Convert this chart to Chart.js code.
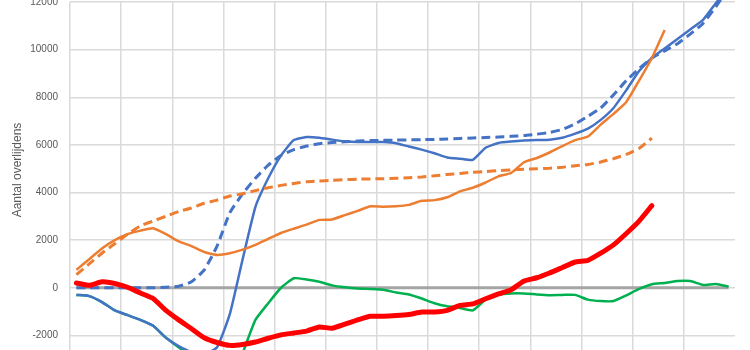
<!DOCTYPE html>
<html>
<head>
<meta charset="utf-8">
<script src="https://cdn.jsdelivr.net/npm/chart.js@4"></script>
<style>
  html, body { margin: 0; padding: 0; background: #fff; overflow: hidden; }
  #wrap { position: absolute; left: 0; top: -20px; width: 750px; height: 421px; }
</style>
</head>
<body>
<div id="wrap"><canvas id="chart"></canvas></div>
<script>
// weken (x-as labels zitten onder de uitsnede)
const weeks = ['1','2','3','4','5','6','7','8','9','10','11','12','13','14','15','16','17','18','19','20',
  '21','22','23','24','25','26','27','28','29','30','31','32','33','34','35','36','37','38','39','40',
  '41','42','43','44','45','46','47','48','49','50','51','52'];

// blauw doorgetrokken
const blueSolid = [-300, -350, -600, -950, -1150, -1350, -1600, -2100, -2450, -2700,
  -2800, -2500, -1100, 1200, 3400, 4600, 5550, 6200, 6330, 6300,
  6220, 6150, 6120, 6120, 6120, 6070, 5930, 5800, 5650, 5470,
  5420, 5370, 5880, 6080, 6140, 6180, 6200, 6220, 6300, 6470,
  6680, 7050, 7550, 8300, 9100, 9650, 10050, 10450, 10850, 11250,
  11950, 12600];
// blauw gestippeld
const blueDashed = [0, 0, 0, 0, 0, 0, 0, 20, 60, 250,
  750, 1750, 3150, 3950, 4600, 5150, 5550, 5800, 5950, 6050,
  6100, 6130, 6160, 6180, 6190, 6200, 6210, 6220, 6230, 6250,
  6270, 6290, 6310, 6330, 6360, 6390, 6450, 6520, 6650, 6880,
  7200, 7550, 8100, 8700, 9200, 9650, 9950, 10250, 10650, 11100,
  11800, 12600];
// oranje doorgetrokken
const orangeSolid = [750, 1200, 1650, 2000, 2250, 2400, 2500, 2250, 1950, 1750,
  1500, 1380, 1450, 1600, 1800, 2050, 2300, 2480, 2650, 2850,
  2870, 3050, 3230, 3420, 3400, 3420, 3480, 3650, 3680, 3800,
  4050, 4200, 4420, 4680, 4820, 5270, 5450, 5680, 5950, 6200,
  6350, 6850, 7300, 7800, 8700, 9650, 10820];
// oranje gestippeld
const orangeDashed = [550, 1000, 1450, 1850, 2250, 2600, 2800, 3000, 3200, 3350,
  3550, 3680, 3850, 3950, 4080, 4200, 4300, 4380, 4450, 4480,
  4510, 4540, 4560, 4570, 4580, 4600, 4620, 4650, 4700, 4760,
  4800, 4850, 4880, 4920, 4950, 4980, 5000, 5020, 5060, 5120,
  5180, 5280, 5420, 5600, 5850, 6280];
// rood (dik)
const redLine = [200, 100, 250, 180, 20, -220, -450, -950, -1350, -1720,
  -2100, -2300, -2420, -2380, -2280, -2120, -1980, -1900, -1820, -1650,
  -1700, -1530, -1350, -1200, -1200, -1170, -1120, -1020, -1020, -950,
  -740, -680, -460, -260, -80, 280, 420, 620, 850, 1080,
  1150, 1450, 1800, 2280, 2800, 3450];
// groen
const greenLine = [-300, -350, -600, -950, -1150, -1350, -1600, -2100, -2500, -2950,
  -3550, -4250, -4250, -2750, -1350, -650, 0, 400, 350, 250,
  100, 20, -30, -50, -80, -200, -280, -450, -650, -780,
  -850, -950, -500, -300, -240, -240, -280, -310, -300, -300,
  -500, -560, -560, -320, -50, 150, 200, 280, 280, 120,
  160, 50];
// nullijn (grijs)
const zeroLine = [0, 0, 0, 0, 0, 0, 0, 0, 0, 0, 0, 0, 0, 0, 0, 0, 0, 0, 0, 0,
  0, 0, 0, 0, 0, 0, 0, 0, 0, 0, 0, 0, 0, 0, 0, 0, 0, 0, 0, 0,
  0, 0, 0, 0, 0, 0, 0, 0, 0, 0, 0, 0];

const yTicks = { min: -4000, max: 12000, step: 2000 };
const yTitle = 'Aantal overlijdens';

function line(data, color, width, dash, extra) {
  return Object.assign({
    data: data,
    borderColor: color,
    backgroundColor: color,
    borderWidth: width,
    borderDash: dash || [],
    pointRadius: 0,
    pointHoverRadius: 0,
    tension: 0.15,
    fill: false
  }, extra || {});
}

// as-titel: gecentreerd op de volledige (niet uitgesneden) grafiek, dus iets hoger
const axisTitle = {
  id: 'axisTitle',
  afterDraw(chart) {
    const ctx = chart.ctx;
    ctx.save();
    ctx.translate(18, 190);
    ctx.rotate(-Math.PI / 2);
    ctx.font = '12px "Liberation Sans"';
    ctx.fillStyle = '#595959';
    ctx.textAlign = 'center';
    ctx.textBaseline = 'middle';
    ctx.fillText(yTitle, 0, 0);
    ctx.restore();
  }
};

new Chart(document.getElementById('chart'), {
  type: 'line',
  data: {
    labels: weeks,
    datasets: [
      line(redLine, '#FF0000', 5, null, { borderCapStyle: 'round' }),
      line(orangeSolid, '#ED7D31', 2.5),
      line(orangeDashed, '#ED7D31', 3, [9, 5]),
      line(blueSolid, '#4472C4', 2.5, null, { clip: false }),
      line(blueDashed, '#4472C4', 3, [9, 5], { clip: false }),
      line(greenLine, '#00B050', 2.5),
      line(zeroLine, '#A5A5A5', 3)
    ]
  },
  plugins: [axisTitle],
  options: {
    responsive: true,
    maintainAspectRatio: false,
    animation: false,
    events: [],
    layout: { padding: { left: 0, right: 15, top: 22, bottom: 2 } },
    plugins: {
      legend: { display: false },
      tooltip: { enabled: false }
    },
    scales: {
      x: {
        offset: true,
        afterFit: scale => { scale.height = 0; },
        grid: {
          offset: true,
          drawTicks: false,
          lineWidth: 1.5,
          color: ctx => (ctx.index % 4 === 0 ? '#DADADA' : 'rgba(0,0,0,0)')
        },
        border: { display: false },
        ticks: { display: false }
      },
      y: {
        min: yTicks.min,
        max: yTicks.max,
        afterFit: scale => { scale.width = 70; },
        grid: { drawTicks: false, lineWidth: 1.5, color: '#DADADA' },
        border: { display: false },
        ticks: {
          stepSize: yTicks.step,
          padding: 12,
          color: '#595959',
          font: { family: 'Liberation Sans', size: 10 },
          callback: v => String(v)
        }
      }
    }
  }
});
</script>
</body>
</html>
